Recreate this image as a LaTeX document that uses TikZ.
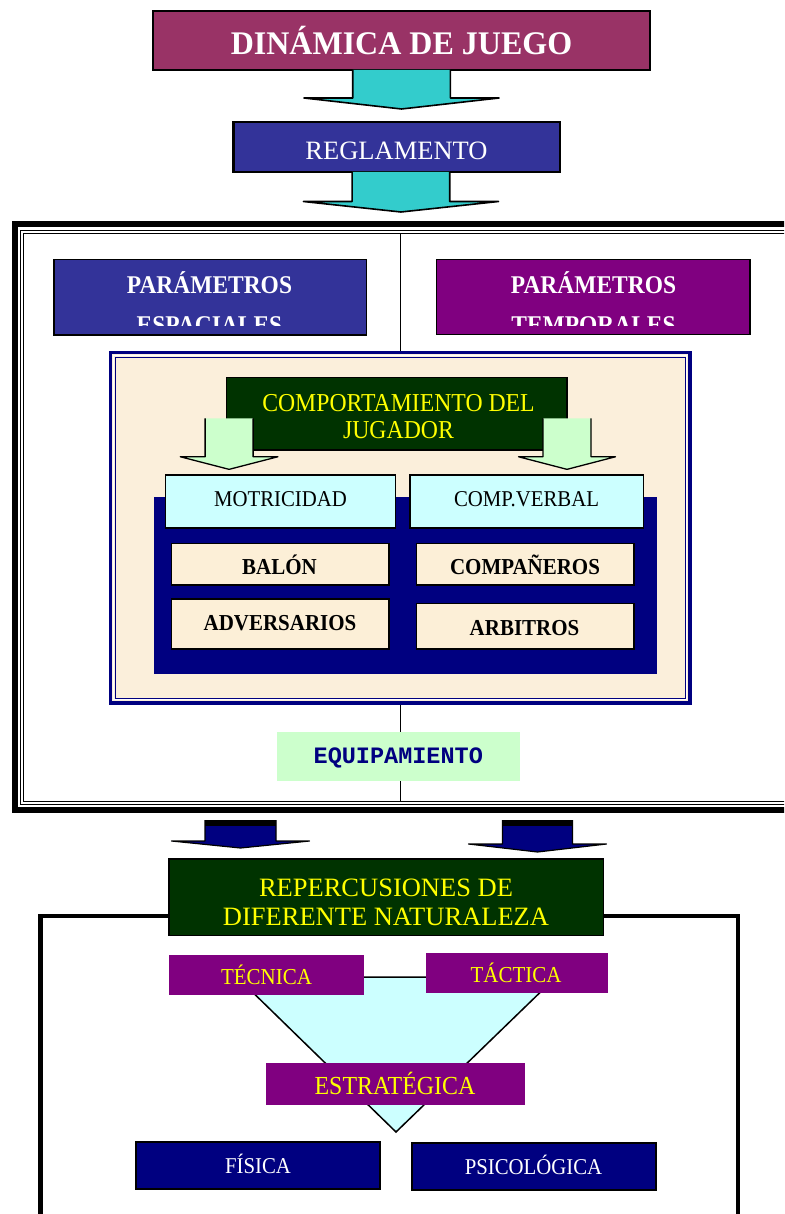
\documentclass[tikz,border=0pt]{standalone}
\usepackage{fontspec}
\setmainfont{Liberation Serif}
\newfontfamily\tallserif{Liberation Serif}[FakeStretch=0.92]
\newfontfamily\headserif{Liberation Serif}[FakeStretch=0.97]
\newfontfamily\equipfont{Liberation Mono}
\usetikzlibrary{fit,calc}

\definecolor{dinamica}{HTML}{993366}
\definecolor{indigo}{HTML}{333399}
\definecolor{turq}{HTML}{33CCCC}
\definecolor{navy}{HTML}{000080}
\definecolor{plum}{HTML}{800080}
\definecolor{forest}{HTML}{003300}
\definecolor{mint}{HTML}{CCFFCC}
\definecolor{ice}{HTML}{CCFFFF}
\definecolor{parchment}{HTML}{FBEFDB}
\definecolor{sand}{HTML}{FCEFD7}
\definecolor{lemon}{HTML}{FFFF00}

\newcommand\fsz[1]{\fontsize{#1}{#1}\selectfont}

\begin{document}
\begin{tikzpicture}[x=1pt,y=-1pt,
  panel/.style={inner sep=0pt, outer sep=0pt},
  framed/.style={panel, draw=black, line width=1.5pt},
  tx/.style={inner sep=0pt, anchor=base},
  arrowline/.style={draw=black, line width=1.6pt, line join=round},
  cyanarrow/.style={arrowline, fill=turq},
  mintarrow/.style={arrowline, line width=1.3pt, fill=mint},
  navyarrow/.style={arrowline, line width=1.2pt, fill=navy},
  pics/downarrow/.style n args={5}{code={
    % #1 half shaft width, #2 shaft length, #3 half head width, #4 head length
    \filldraw[#5] (-#1,0) -- (-#1,#2) -- (-#3,#2) -- (0,#2+#4) -- (#3,#2)
      -- (#1,#2) -- (#1,0);
  }},
]
\useasboundingbox (0,0) rectangle (784,1214);
\clip (0,0) rectangle (784,1214);

% ---------- top: game dynamics and rules ----------
\node[framed, line width=2.5pt, fill=dinamica, fit={(153,11) (650,70)}] (title) {};
\node[tx, text=white, font=\headserif\bfseries\fsz{33}] (titletext) at (401.5,55) {DINÁMICA DE JUEGO};

\node[framed, line width=2.5pt, fill=indigo, fit={(233.5,122) (560,172)}] (regl) {};
\node[tx, text=white, font=\fsz{26.5}] (regltext) at (396.5,160) {REGLAMENTO};

\pic at (title.south) {downarrow={48.8}{28}{97.5}{11}{cyanarrow}};
\pic at ($(regl.south)+(4.2,0)$) {downarrow={48.8}{29.5}{97.5}{10.5}{cyanarrow}};

% ---------- large double frame ----------
\draw[line width=6pt, line join=miter] (14.5,224.5) rectangle (830,810);
\draw[line width=1pt] (20.8,230.8) rectangle (830,804);
\draw[line width=1pt] (23.3,233.3) rectangle (830,801.3);

\coordinate (divtop) at (400.5,233.3);
\coordinate (divbot) at (400.5,801.3);
\draw[line width=1.3pt] (divtop) -- (divbot);

% parameter boxes (second line clipped by the text frame)
\node[framed, fill=indigo, fit={(54,259.5) (366.5,335)}] (pesp) {};
\node[framed, fill=plum, fit={(436.5,259.5) (750,334.5)}] (ptem) {};
\begin{scope}
  \clip (54,259.5) rectangle (750,325);
  \node[tx, text=white, font=\tallserif\bfseries\fsz{25.5}] (pesp1) at (209.5,293.3) {PARÁMETROS};
  \node[tx, text=white, font=\tallserif\bfseries\fsz{25.5}] (pesp2) at (209.5,333.3) {ESPACIALES};
  \node[tx, text=white, font=\tallserif\bfseries\fsz{25.5}] (ptem1) at (593.5,293.3) {PARÁMETROS};
  \node[tx, text=white, font=\tallserif\bfseries\fsz{25.5}] (ptem2) at (593.5,333.3) {TEMPORALES};
\end{scope}

% ---------- player behaviour panel ----------
\node[panel, fill=parchment, draw=navy, line width=3.5pt, fit={(110.5,352.5) (690,703)}] (stage) {};
\draw[white, line width=1.2pt] ($(stage.north west)+(3.2,3.2)$) rectangle ($(stage.south east)+(-3.2,-3.2)$);
\draw[navy, line width=1pt] ($(stage.north west)+(5,5)$) rectangle ($(stage.south east)+(-5,-5)$);

\node[framed, fill=forest, fit={(226.5,377.5) (567,450)}] (comp) {};
\node[tx, text=lemon, font=\tallserif\fsz{25.8}] (comp1) at (398.5,411.7) {COMPORTAMIENTO DEL};
\node[tx, text=lemon, font=\tallserif\fsz{25.8}] (comp2) at (398.5,438.3) {JUGADOR};

\pic at ($(comp.west)+(2.6,4.6)$) {downarrow={24}{38.4}{48.8}{12.6}{mintarrow}};
\pic at ($(comp.east)+(0,4.6)$) {downarrow={24}{38.4}{48.5}{12.6}{mintarrow}};

\node[panel, fill=navy, fit={(153.5,497) (657,673.5)}] (base) {};

\node[framed, fill=ice, fit={(165.5,475) (395.5,528)}] (motr) {};
\node[tx, font=\tallserif\fsz{22.6}] (motrtext) at (280.5,506.7) {MOTRICIDAD};
\node[framed, fill=ice, fit={(410,475) (643.5,528)}] (verb) {};
\node[tx, font=\tallserif\fsz{22.6}] (verbtext) at (526.5,506.7) {COMP.VERBAL};

\node[framed, fill=sand, fit={(171.5,543.5) (389,585)}] (balon) {};
\node[tx, font=\tallserif\bfseries\fsz{22.8}] (balontext) at (279.5,574) {BALÓN};
\node[framed, fill=sand, fit={(416.5,543.5) (634,585)}] (compa) {};
\node[tx, font=\tallserif\bfseries\fsz{22.8}] (compatext) at (525,574) {COMPAÑEROS};
\node[framed, fill=sand, fit={(171.5,599) (389,649)}] (adver) {};
\node[tx, font=\tallserif\bfseries\fsz{22.8}] (advertext) at (280,630.7) {ADVERSARIOS};
\node[framed, fill=sand, fit={(416.5,603.5) (634,649)}] (arbit) {};
\node[tx, font=\tallserif\bfseries\fsz{22.8}] (arbittext) at (524.5,635) {ARBITROS};

% ---------- equipment ----------
\node[panel, fill=mint, fit={(276.5,732) (520,780.5)}] (equip) {};
\node[tx, text=navy, font=\equipfont\bfseries\fsz{23.5}] (equiptext) at (398.3,763.3) {EQUIPAMIENTO};

% ---------- arrows to the consequences ----------
\coordinate (arrL) at (240.5,820);
\coordinate (arrR) at (537.5,820);
\pic at (arrL) {downarrow={35.5}{21}{69}{7}{navyarrow}};
\pic at (arrR) {downarrow={35}{24}{69}{8}{navyarrow}};
\fill[black] ($(arrL)+(-35.5,0)$) rectangle ($(arrL)+(35.5,6)$);
\fill[black] ($(arrR)+(-35,0)$) rectangle ($(arrR)+(35,6)$);

% ---------- consequences frame ----------
\draw[line width=4.5pt, line join=miter] (40.5,1240) -- (40.5,916) -- (738,916) -- (738,1240);

\node[framed, fill=forest, fit={(169,859) (603.5,935.5)}] (reper) {};
\node[tx, text=lemon, font=\fsz{26.5}] (reper1) at (386,896.7) {REPERCUSIONES DE};
\node[tx, text=lemon, font=\fsz{26.5}] (reper2) at (386,925) {DIFERENTE NATURALEZA};

\coordinate (triA) at (237,977);
\coordinate (triB) at (556,977);
\coordinate (triC) at (396,1132);
\filldraw[fill=ice, draw=black, line width=1.5pt] (triA) -- (triB) -- (triC) -- cycle;

\node[panel, fill=plum, fit={(169,955) (363.5,995)}] (tecn) {};
\node[tx, text=lemon, font=\tallserif\fsz{22.8}] (tecntext) at (266.5,984) {TÉCNICA};
\node[panel, fill=plum, fit={(426,953) (607.5,993)}] (tact) {};
\node[tx, text=lemon, font=\tallserif\fsz{22.8}] (tacttext) at (516,982.3) {TÁCTICA};
\node[panel, fill=plum, fit={(266,1063) (524.5,1104.5)}] (estr) {};
\node[tx, text=lemon, font=\tallserif\fsz{26}] (estrtext) at (395,1094) {ESTRATÉGICA};

\node[framed, line width=2pt, fill=navy, fit={(136,1142) (380,1189)}] (fisi) {};
\node[tx, text=white, font=\tallserif\fsz{22.6}] (fisitext) at (258,1173.3) {FÍSICA};
\node[framed, line width=2pt, fill=navy, fit={(411.5,1143) (655.5,1190)}] (psic) {};
\node[tx, text=white, font=\tallserif\fsz{22.6}] (psictext) at (533.5,1174.3) {PSICOLÓGICA};

\end{tikzpicture}
\end{document}
